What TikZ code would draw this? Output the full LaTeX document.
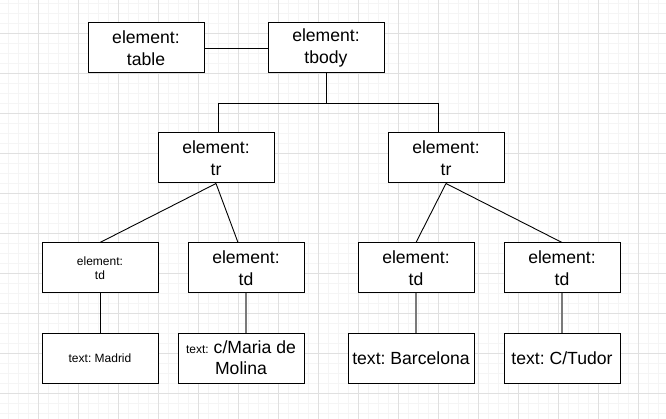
\documentclass[tikz,border=0pt]{standalone}
\usepackage{fontspec}
\setmainfont{Liberation Sans}
\frenchspacing
\definecolor{gridminor}{HTML}{F5F5F5}
\definecolor{gridmajor}{HTML}{E0E0E0}
\definecolor{connGrey}{HTML}{7A7A7A}
\tikzset{
  box/.style={draw=black, line width=1pt, fill=white, minimum width=116pt, minimum height=50pt, align=center, inner sep=1pt},
  wide/.style={box, minimum width=126pt},
  bigtxt/.style={font=\fontsize{17.6}{22}\selectfont},
  smalltxt/.style={font=\fontsize{12}{14.5}\selectfont},
  conn/.style={draw=black, line width=0.9pt},
  greyconn/.style={draw=connGrey, line width=1.6pt}
}
\newcommand{\smtext}[1]{{\fontsize{12}{14.5}\selectfont #1}}
\begin{document}
\begin{tikzpicture}[x=1pt,y=-1pt]
\useasboundingbox (0,0) rectangle (666,419);
\fill[white] (0,0) rectangle (666,419);
% grid
\foreach \x in {-2,8,...,666} \draw[gridminor, line width=0.8pt] (\x,0) -- (\x,419);
\foreach \y in {3,13,...,419} \draw[gridminor, line width=0.8pt] (0,\y) -- (666,\y);
\foreach \x in {-2,38,...,666} \draw[gridmajor, line width=0.9pt] (\x,0) -- (\x,419);
\foreach \y in {-7,33,...,419} \draw[gridmajor, line width=0.9pt] (0,\y) -- (666,\y);

% nodes
\node[box, bigtxt] (table) at (146,48) {element:\\table};
\node[box, bigtxt] (tbody) at (326,48) {element:\\tbody};
\node[box, bigtxt] (tr1) at (216,158) {element:\\tr};
\node[box, bigtxt] (tr2) at (446,158) {element:\\tr};
\node[box, smalltxt] (td1) at (100,268) {element:\\td};
\node[box, bigtxt] (td2) at (246,268) {element:\\td};
\node[box, bigtxt] (td3) at (416,268) {element:\\td};
\node[box, bigtxt] (td4) at (562,268) {element:\\td};
\node[box, smalltxt] (text1) at (100,358) {text: Madrid};
\node[wide, font=\fontsize{17.6}{21}\selectfont] (text2) at (241,358) {\smtext{text:} c/Maria de\\Molina};
\node[wide, bigtxt] (text3) at (411,358) {text: Barcelona};
\node[box, bigtxt] (text4) at (562,358) {text: C/Tudor};

% connectors
\coordinate (hl) at (218,103);
\coordinate (hr) at (438,103);
\coordinate (j) at (tbody.south |- hl);
\draw[conn] (table.east) -- (tbody.west);
\draw[conn] (tbody.south) -- (j);
\draw[conn] (hl) -- (hr);
\draw[conn] (hl) -- (hl |- tr1.north);
\draw[conn] (hr) -- (hr |- tr2.north);
\draw[conn] (tr1.south) -- (td1.north);
\draw[conn] (tr1.south) -- ([xshift=-8pt]td2.north);
\draw[conn] (tr2.south) -- (td3.north);
\draw[conn] (tr2.south) -- (td4.north);
\draw[conn] (td1.south) -- (text1.north);
\draw[greyconn] (td2.south) -- (td2.south |- text2.north);
\draw[greyconn] (td3.south) -- (td3.south |- text3.north);
\draw[greyconn] (td4.south) -- (text4.north);
\end{tikzpicture}
\end{document}
